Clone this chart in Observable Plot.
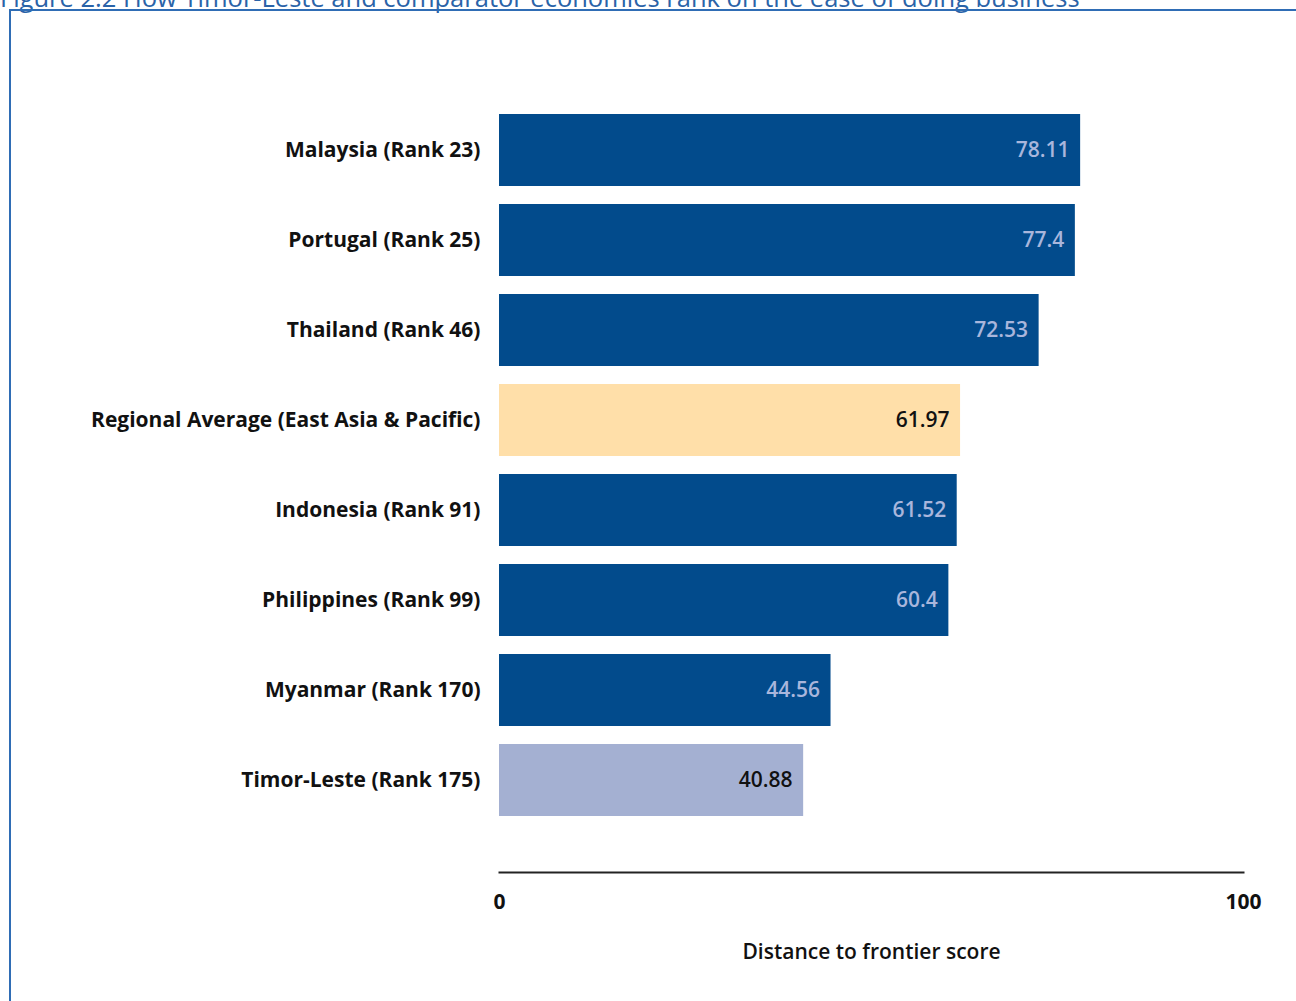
<!DOCTYPE html>
<html>
<head>
<meta charset="utf-8">
<script src="https://cdn.jsdelivr.net/npm/d3@7"></script>
<script src="https://cdn.jsdelivr.net/npm/@observablehq/plot@0.6"></script>
<style>
  html, body { margin: 0; padding: 0; background: #fff; overflow: hidden; }
  body { width: 1296px; height: 1001px; position: relative; font-family: "Open Sans", sans-serif; }
  #title { position: absolute; left: 0; top: -16px; font-size: 25.5px; line-height: 26px; color: #2a63a8; white-space: nowrap; }
  #box { position: absolute; left: 9px; top: 9px; width: 1300px; height: 1000px; border-left: 2px solid #2f6db5; border-top: 2px solid #2f6db5; }
  #chart { position: absolute; left: 0; top: 0; }
</style>
</head>
<body>
<div id="title">Figure 2.2 How Timor-Leste and comparator economies rank on the ease of doing business</div>
<div id="box"></div>
<div id="chart"></div>
<script>
const economies = ["Malaysia (Rank 23)", "Portugal (Rank 25)", "Thailand (Rank 46)", "Regional Average (East Asia & Pacific)", "Indonesia (Rank 91)", "Philippines (Rank 99)", "Myanmar (Rank 170)", "Timor-Leste (Rank 175)"];
const scores = [78.11, 77.4, 72.53, 61.97, 61.52, 60.4, 44.56, 40.88];
const groups = ["Comparator", "Comparator", "Comparator", "Regional", "Comparator", "Comparator", "Comparator", "Timor-Leste"];
const groupNames = ["Comparator", "Regional", "Timor-Leste"];
const groupColors = ["#024b8c", "#ffdfa9", "#a4b0d2"];
const labelColors = ["#a9b6dc", "#111111", "#111111"];
const xTicks = [0, 100];
const xLabel = "Distance to frontier score";

const data = economies.map((e, i) => ({economy: e, score: scores[i], group: groups[i], label: String(scores[i])}));
const labelColor = g => labelColors[groupNames.indexOf(g)];

const plot = Plot.plot({
  width: 1296,
  height: 1001,
  marginLeft: 499,
  marginRight: 53,
  marginTop: 95,
  marginBottom: 129,
  style: { fontFamily: "'Open Sans', sans-serif", background: "transparent" },
  x: { domain: [0, 100], ticks: xTicks, tickSize: 0 },
  y: { domain: economies, range: [95, 835], padding: 0.2 },
  color: { domain: groupNames, range: groupColors },
  marks: [
    Plot.barX(data, { y: "economy", x: "score", fill: "group" }),
    Plot.text(data, { y: "economy", x: "score", text: "label", textAnchor: "end", dx: -11, fill: d => labelColor(d.group), fontSize: 21, fontWeight: 600 }),
    Plot.frame({ anchor: "bottom", stroke: "#222", strokeWidth: 2 }),
    Plot.axisY({ tickSize: 0, tickPadding: 19, label: null, fontSize: 21, fontWeight: 700, fill: "#111" }),
    Plot.axisX({ ticks: xTicks, tickSize: 0, tickPadding: 22, label: null, fontSize: 21, fontWeight: 700, fill: "#111", tickFormat: d => String(d) }),
    Plot.text([xLabel], { frameAnchor: "bottom", dy: 86, text: d => d, fontSize: 21, fontWeight: 600, fill: "#111" })
  ]
});
document.getElementById("chart").appendChild(plot);
</script>
</body>
</html>
